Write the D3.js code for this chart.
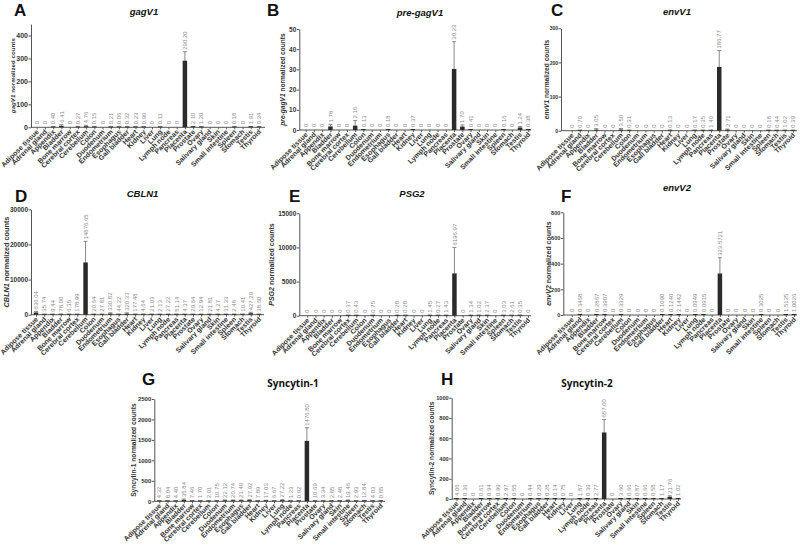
<!DOCTYPE html>
<html><head><meta charset="utf-8">
<script src="https://cdn.jsdelivr.net/npm/d3@7"></script>
<style>
html,body{margin:0;padding:0;background:#fff;}
svg{display:block;font-family:"Liberation Sans",Arial,sans-serif;}
</style></head>
<body>
<svg id="c" width="800" height="549"></svg>
<script>
const tissues = ["Adipose tissue","Adrenal gland","Appendix","Bladder","Bone marrow","Cerebral cortex","Cerebellum","Colon","Duodenum","Endometrium","Esophagus","Gall bladder","Heart","Kidney","Liver","Lung","Lymph node","Pancreas","Placenta","Prostate","Ovary","Salivary gland","Skin","Small intestine","Spleen","Stomach","Testis","Thyroid"];

const gagV1    = [0,0,0.40,6.41,0,0.27,4.76,0.15,0,0.21,0.06,0.32,0.23,0.90,0,0.11,0,0,290.20,2.10,1.20,0,0,0,0.18,0,1.91,0.34];
const gagV1Err = [0,0,0,5,0,0,4,0,0,0,0,0,0,0,0,0,0,0,39,1.5,0,0,0,0,0,0,1,0];

const preGagV1    = [0,0,0,1.78,0,0,2.16,0.13,0,0,0.18,0,0,0.37,0,0,0,0,30.23,1.70,0.41,0,0,0,0.16,0,1.24,0.38];
const preGagV1Err = [0,0,0,1.0,0,0,2.5,0,0,0,0,0,0,0,0,0,0,0,13.5,0.8,0,0,0,0,0,0,0.5,0];

const envV1    = [0,0.70,0,3.05,0,0,3.50,0.31,0,0,0,0,0.13,0,0,0.17,0.35,1.40,186.77,2.71,0,0,0,0,0.18,0.44,1.02,0.39];
const envV1Err = [0,0,0,3,0,0,3,0,0,0,0,0,0,0,0,0,0,0,48,2,0,0,0,0,0,0,0,0];

const cbln1    = [636.04,35.74,9.44,78.00,6.35,178.99,14876.65,20.64,27.81,330.82,44.22,320.33,177.48,4.64,21.03,2.13,27.22,51.14,4.37,29.64,12.94,21.81,4.27,31.33,2.48,10.41,427.29,38.60];
const cbln1Err = [300,0,0,0,0,0,6000,0,0,200,0,200,0,0,0,0,0,0,0,0,0,0,0,0,0,0,250,0];

const psg2    = [0,0,0,0,0,0.37,0.43,0,0.75,0,0,0.28,0.28,0,0,1.45,0.27,1.43,6196.97,0,1.34,1.02,2.37,0,3.03,2.61,0.35,0];
const psg2Err = [0,0,0,0,0,0,0,0,0,0,0,0,0,0,0,0,0,0,3800,0,0,0,0,0,0,0,0,0];

const envV2    = [0,0.3468,0,0.2867,0.3907,0,0.3329,0,0,0,0,0.1090,0.1240,2.1442,0,0.0949,0.0915,0,323.5721,0,0,0,0,0.3025,0,0,1.5125,1.0026];
const envV2Err = [0,0,0,0,0,0,0,0,0,0,0,0,0,0,0,0,0,0,122,0,0,0,0,0,0,0,0,0];

const syn1    = [4.32,8.04,4.40,35.84,7.46,1.70,2.01,10.75,22.12,20.74,21.40,27.92,7.89,17.03,6.67,27.22,1.23,0.92,1476.80,10.69,3.34,2.85,2.48,19.46,2.93,12.84,4.03,0.85];
const syn1Err = [0,0,0,20,0,0,0,0,12,12,12,14,0,8,0,14,0,0,320,0,0,0,0,12,0,10,0,0];

const syn2    = [4.06,0.36,0,0.61,0.94,0.99,2.97,0.55,0,0.44,0.29,0.28,0.14,0.75,0,1.87,0.39,2.77,657.00,0,3.60,0.66,0.87,0.66,0.58,1.17,21.76,1.02];
const syn2Err = [0,0,0,0,0,0,0,0,0,0,0,0,0,0,0,0,0,0,128,0,0,0,0,0,0,0,10,0];

const panels = [
 {letter:"A", gene:"gagV1", italic:true, vals:gagV1, err:gagV1Err, ymax:450, ticks:[0,100,200,300,400], dec:2,
  ax:31, y0:127.3, yTop:24, x0:36.7, x1:259, axEnd:265, ltx:14, lty:16, tx:144, ty:15, ylx:13, tf:7, yf:6.2},
 {letter:"B", gene:"pre-gagV1", italic:true, vals:preGagV1, err:preGagV1Err, ymax:50, ticks:[0,10,20,30,40,50], dec:2,
  ax:299.3, y0:130, yTop:29, x0:305.7, x1:528.3, axEnd:531, ltx:267, lty:16, tx:420, ty:16, ylx:283, tf:6.5, yf:6.6},
 {letter:"C", gene:"envV1", italic:true, vals:envV1, err:envV1Err, ymax:300, ticks:[0,100,200,300], dec:2,
  ax:561, y0:130.7, yTop:28.3, x0:571.7, x1:793, axEnd:797, ltx:551, lty:16, tx:677, ty:15, ylx:547, tf:5, yf:6.6},
 {letter:"D", gene:"CBLN1", italic:true, vals:cbln1, err:cbln1Err, ymax:30000, ticks:[0,10000,20000,30000], dec:2,
  ax:31, y0:314.7, yTop:209.3, x0:36, x1:259, axEnd:264, ltx:15, lty:202, tx:142.5, ty:196.5, ylx:6.5, tf:6.5, yf:7.3},
 {letter:"E", gene:"PSG2", italic:true, vals:psg2, err:psg2Err, ymax:15000, ticks:[0,5000,10000,15000], dec:2,
  ax:299.3, y0:315.7, yTop:213.3, x0:307.3, x1:528, axEnd:531, ltx:289, lty:202, tx:412, ty:196.5, ylx:271.5, tf:6.5, yf:7},
 {letter:"F", gene:"envV2", italic:true, vals:envV2, err:envV2Err, ymax:800, ticks:[0,200,400,600,800], dec:4,
  ax:563.3, y0:315, yTop:212.3, x0:571.7, x1:794, axEnd:797, ltx:561, lty:202, tx:677, ty:191, ylx:548.5, tf:5.5, yf:7},
 {letter:"G", gene:"Syncytin-1", italic:false, vals:syn1, err:syn1Err, ymax:2500, ticks:[0,500,1000,1500,2000,2500], dec:2,
  ax:154.3, y0:501.3, yTop:399, x0:159.3, x1:380.7, axEnd:385, ltx:142, lty:385, tx:293, ty:386.5, ylx:133.5, tf:6, yf:6.6},
 {letter:"H", gene:"Syncytin-2", italic:false, vals:syn2, err:syn2Err, ymax:1000, ticks:[0,200,400,600,800,1000], dec:2,
  ax:451.7, y0:499, yTop:397.7, x0:456.5, x1:678, axEnd:681, ltx:441, lty:385, tx:587, ty:386.5, ylx:432, tf:5.6, yf:6.6}
];

const svg = d3.select("#c");
svg.append("rect").attr("width",800).attr("height",549).attr("fill","#fff");

const AX = "#555", BAR = "#2b2b2b", ERR = "#888", VL = "#8a8a8a", TXT = "#333";

panels.forEach(p => {
  const g = svg.append("g");
  const y = d3.scaleLinear().domain([0, p.ymax]).range([p.y0, p.yTop]);
  const x = d3.scalePoint().domain(tissues).range([p.x0, p.x1]);

  // panel letter
  g.append("text").attr("x", p.ltx).attr("y", p.lty).attr("font-size", 17).attr("font-weight", "bold")
    .attr("fill", "#111").text(p.letter);

  // title
  g.append("text").attr("x", p.tx).attr("y", p.ty).attr("text-anchor", "middle")
    .attr("font-size", p.italic ? 9.5 : 10).attr("font-weight", "bold")
    .attr("font-style", p.italic ? "italic" : "normal")
    .attr("font-family", p.italic ? null : "'Open Sans',sans-serif")
    .attr("fill", "#111").text(p.gene);

  // y axis
  const ya = g.append("g").attr("transform", `translate(${p.ax},0)`)
    .call(d3.axisLeft(y).tickValues(p.ticks).tickSize(2.5).tickSizeOuter(0).tickPadding(0.5).tickFormat(d3.format("d")));
  ya.select(".domain").attr("stroke", AX);
  ya.selectAll(".tick line").attr("stroke", AX);
  ya.selectAll(".tick text").attr("font-size", p.tf).attr("font-weight", "bold").attr("fill", TXT)
    .attr("font-family", "'Liberation Sans',Arial,sans-serif");

  // y axis title
  const yl = g.append("text")
    .attr("transform", `translate(${p.ylx},${(p.y0 + p.yTop) / 2}) rotate(-90)`)
    .attr("text-anchor", "middle").attr("dy", "0.35em")
    .attr("font-size", p.yf).attr("font-weight", "bold").attr("fill", TXT);
  yl.append("tspan").attr("font-style", p.italic ? "italic" : "normal").text(p.gene);
  yl.append("tspan").text(" normalized counts");

  // x axis
  const xa = g.append("g").attr("transform", `translate(0,${p.y0})`)
    .call(d3.axisBottom(x).tickSize(2).tickSizeOuter(0).tickFormat(""));
  xa.select(".domain").remove();
  xa.selectAll(".tick line").attr("stroke", AX);
  g.append("line").attr("x1", p.ax).attr("x2", p.axEnd).attr("y1", p.y0).attr("y2", p.y0)
    .attr("stroke", AX).attr("stroke-width", 1);

  // category labels
  g.selectAll(".cl").data(tissues).enter().append("text")
    .attr("transform", d => `translate(${x(d) + 2.5},${p.y0 + 5}) rotate(-45)`)
    .attr("text-anchor", "end").attr("font-size", 7).attr("font-weight", "bold").attr("fill", TXT)
    .text(d => d);

  const data = tissues.map((t, i) => ({t, v: p.vals[i], e: p.err[i]}));

  // error bars
  data.filter(d => d.e > 0).forEach(d => {
    const cx = x(d.t);
    g.append("line").attr("x1", cx).attr("x2", cx).attr("y1", y(d.v)).attr("y2", y(d.v + d.e))
      .attr("stroke", ERR).attr("stroke-width", 1);
    g.append("line").attr("x1", cx - 2).attr("x2", cx + 2).attr("y1", y(d.v + d.e)).attr("y2", y(d.v + d.e))
      .attr("stroke", ERR).attr("stroke-width", 1);
  });

  // bars
  const bw = 4.5;
  g.selectAll(".bar").data(data.filter(d => d.v > 0)).enter().append("rect")
    .attr("x", d => x(d.t) - bw / 2).attr("width", bw)
    .attr("y", d => Math.min(y(d.v), p.y0 - 1))
    .attr("height", d => Math.max(p.y0 - y(d.v), 1))
    .attr("fill", BAR);

  // value labels
  g.selectAll(".vl").data(data).enter().append("text")
    .attr("transform", d => `translate(${x(d.t)},${Math.min(y(d.v + d.e), p.y0 - 1) - 2}) rotate(-90)`)
    .attr("dy", "0.35em").attr("font-size", 6).attr("fill", VL)
    .text(d => d.v === 0 ? "0" : d.v.toFixed(p.dec));
});
</script>
</body></html>
